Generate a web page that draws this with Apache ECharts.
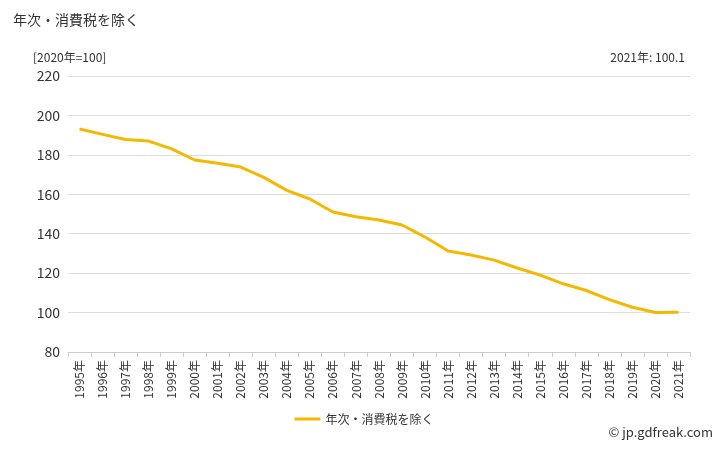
<!DOCTYPE html>
<html><head><meta charset="utf-8">
<script src="https://cdn.jsdelivr.net/npm/echarts@6/dist/echarts.min.js"></script>
<style>html,body{margin:0;padding:0;background:#fff}#c{width:728px;height:450px}</style>
</head><body><div id="c"></div>
<script>
const years = ['1995年','1996年','1997年','1998年','1999年','2000年','2001年','2002年','2003年','2004年','2005年','2006年','2007年','2008年','2009年','2010年','2011年','2012年','2013年','2014年','2015年','2016年','2017年','2018年','2019年','2020年','2021年'];
const values = [193.1,190.4,187.8,187.0,183.0,177.4,175.7,173.8,168.6,162.0,157.6,151.0,148.6,147.0,144.4,138.3,131.2,129.2,126.6,122.6,119.0,114.6,111.2,106.6,102.7,100.0,100.1];
const seriesName = '年次・消費税を除く';
const chart = echarts.init(document.getElementById('c'));
const F = 'Noto Sans CJK JP, sans-serif';
chart.setOption({
  animation:false,
  title:[
    {text:seriesName,left:8,top:8,textStyle:{fontSize:14,fontWeight:'normal',color:'#333',fontFamily:F}},
    {text:'[2020年=100]',left:28,top:46,textStyle:{fontSize:12,fontWeight:'normal',color:'#333',fontFamily:F}},
    {text:'2021年: 100.1',right:38,top:46,textStyle:{fontSize:12,fontWeight:'normal',color:'#333',fontFamily:F}},
    {text:'© jp.gdfreak.com',right:10,bottom:6,textStyle:{fontSize:13,fontWeight:'normal',color:'#333',fontFamily:F}}
  ],
  legend:{bottom:20,left:'center',itemWidth:26,itemHeight:3,icon:'rect',textStyle:{fontSize:12,color:'#333',fontFamily:F},data:[seriesName]},
  grid:{left:68,right:38,top:76,bottom:98},
  xAxis:{type:'category',data:years,boundaryGap:true,
    axisLine:{lineStyle:{color:'#ccc'}},axisTick:{show:true,lineStyle:{color:'#ccc'}},
    splitLine:{show:false},
    axisLabel:{rotate:90,fontSize:12,color:'#333',fontFamily:F,interval:0}},
  yAxis:{type:'value',min:80,max:220,interval:20,
    axisLine:{show:false},axisTick:{show:false},
    splitLine:{lineStyle:{color:'#ddd'}},
    axisLabel:{fontSize:14,color:'#333',fontFamily:F}},
  series:[{name:seriesName,type:'line',data:values,showSymbol:false,
    lineStyle:{color:'#f5b800',width:3},itemStyle:{color:'#f5b800'}}]
});
</script></body></html>
